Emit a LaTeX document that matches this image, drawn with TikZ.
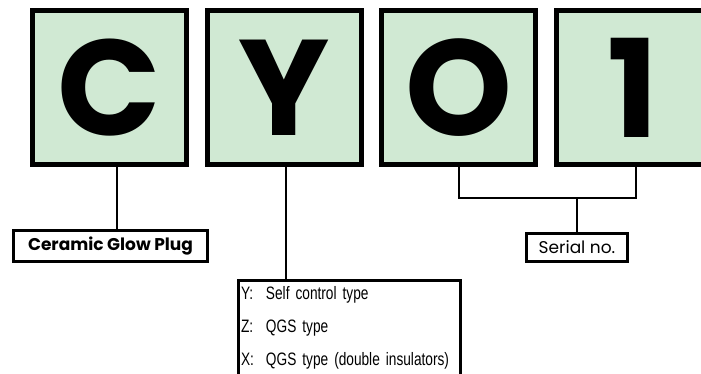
\documentclass[tikz,border=0pt]{standalone}
\usepackage{fontspec}
\setmainfont{Poppins}
\newfontfamily\narrowfont[FakeStretch=0.76]{Liberation Sans}
\usetikzlibrary{calc}
\definecolor{plugGreen}{HTML}{D0E9D3}
\newcommand{\codeitem}[2]{\makebox[25pt][l]{#1:}#2}

\begin{document}
\begin{tikzpicture}[x=1pt, y=-1pt,
    letterbox/.style={draw, line width=5pt, fill=plugGreen, minimum width=154pt, minimum height=154pt, inner sep=0pt, font=\bfseries\fontsize{136}{136}\selectfont},
    namebox/.style={draw, line width=3pt, inner sep=0pt},
    link/.style={line width=2.5pt}]
    \useasboundingbox (0,0) rectangle (701,374);
    \clip (0,0) rectangle (701,374);
    \node[letterbox] (C) at (109.5,87.5) {C};
    \node[letterbox] (Y) at (284.5,87.5) {Y};
    \node[letterbox] (O) at (458.5,87.5) {O};
    \node[letterbox] (one) at (633.5,87.5) {1};
    \node[namebox, minimum width=194pt, minimum height=31pt, font=\bfseries\fontsize{17}{17}\selectfont] (ceramic) at (110.5,246) {Ceramic Glow Plug};
    \node[namebox, minimum width=101pt, minimum height=28pt, font=\fontsize{17}{17}\selectfont] (serial) at (577,247.5) {Serial no.};
    \node[namebox, anchor=north west, inner xsep=3pt, inner ysep=6pt, align=left, text width=216pt, font=\narrowfont\fontsize{18}{33}\selectfont] (types) at (236.5,278.5) {\codeitem{Y}{Self control type}\\ \codeitem{Z}{QGS type}\\ \codeitem{X}{QGS type (double insulators)}\\ \mbox{}};
    \coordinate (cFoot) at (117,167);
    \coordinate (yFoot) at (286,167);
    \coordinate (bracketL) at (459,198);
    \coordinate (bracketR) at (636,198);
    \coordinate (bracketM) at (577,198);
    \draw[link] (cFoot) -- (cFoot |- ceramic.north);
    \draw[link] (yFoot) -- (yFoot |- types.north);
    \draw[link] (O.south -| bracketL) -- (bracketL) -- (bracketR) -- (one.south -| bracketR);
    \draw[link] (bracketM) -- (serial.north);
\end{tikzpicture}
\end{document}
